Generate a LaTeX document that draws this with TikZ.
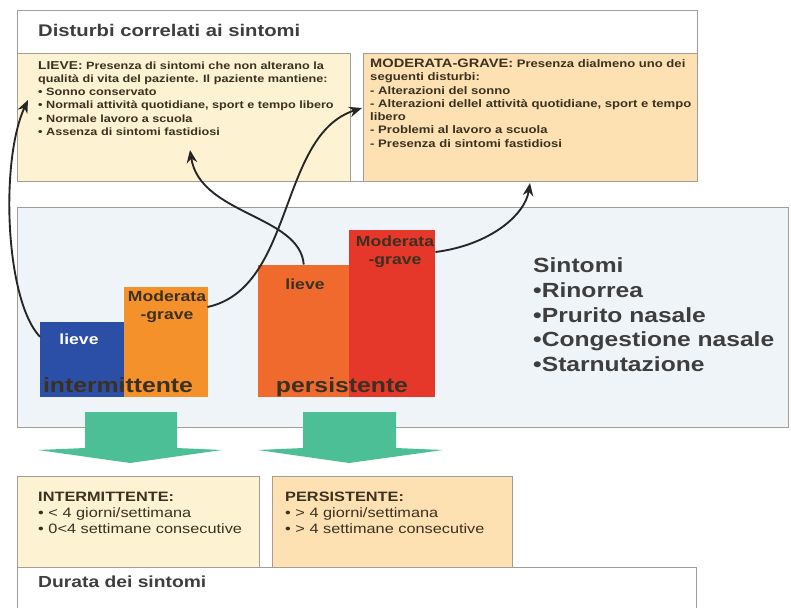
\documentclass[tikz,border=0pt]{standalone}
\usepackage{fontspec}
\setmainfont{Liberation Sans}
\newfontfamily\widesans[FakeStretch=1.2]{Liberation Sans}
\usetikzlibrary{positioning,arrows.meta}

\definecolor{framegray}{HTML}{A39E95}
\definecolor{lievefill}{HTML}{FDF3D2}
\definecolor{gravefill}{HTML}{FDE1B3}
\definecolor{midfill}{HTML}{EFF4F8}
\definecolor{barblue}{HTML}{2B4FA6}
\definecolor{barorange}{HTML}{F5912B}
\definecolor{barflame}{HTML}{F06A2E}
\definecolor{barred}{HTML}{E5372A}
\definecolor{arrowgreen}{HTML}{4DBF97}
\definecolor{inkbrown}{HTML}{3A3120}
\definecolor{titlegray}{HTML}{3E3E3E}

\newcommand{\px}{0.03cm}

\begin{document}
\begin{tikzpicture}[x=0.03cm, y=-0.03cm,
    panel/.style={draw=framegray, line width=0.7pt, anchor=north west, inner sep=0pt},
    bar/.style={anchor=south west, inner sep=0pt},
    barlabel/.style={font=\widesans\bfseries\fontsize{12.5}{15}\selectfont, text=inkbrown, align=center, inner sep=1pt},
    barname/.style={font=\widesans\bfseries\fontsize{17.6}{20}\selectfont, text=inkbrown, anchor=base},
    heading/.style={font=\widesans\bfseries\fontsize{14.4}{18}\selectfont, text=titlegray, anchor=base west, inner sep=0pt},
    smalltext/.style={font=\widesans\bfseries\fontsize{9.3}{11.3}\selectfont, text=inkbrown, align=left, anchor=north west, inner sep=0pt},
    durtext/.style={font=\widesans\fontsize{11.6}{13.6}\selectfont, text=inkbrown, align=left, anchor=north west, inner sep=0pt},
    linkarrow/.style={-{Stealth[length=11pt,width=9pt]}, line width=1.6pt, black!85},
    blockarrow/.style={fill=arrowgreen}
  ]
  \useasboundingbox (0,0) rectangle (791,607);

  % Top panels
  \node[panel, fill=white, minimum width=680*\px, minimum height=171*\px] (top) at (17,10) {};
  \node[panel, fill=lievefill, minimum width=333*\px, minimum height=128*\px] (boxL) at (17,53) {};
  \node[panel, fill=gravefill, minimum width=334*\px, minimum height=128*\px] (boxM) at (363,53) {};
  \node[heading] (titTop) at (38,36) {Disturbi correlati ai sintomi};

  \node[smalltext, font=\widesans\bfseries\fontsize{9}{11.3}\selectfont] (txtL) at (38,61) {{\fontsize{9.8}{11.3}\selectfont LIEVE:} Presenza di sintomi che non alterano la\\
    qualità di vita del paziente. Il paziente mantiene:\\
    • Sonno conservato\\
    • Normali attività quotidiane, sport e tempo libero\\
    • Normale lavoro a scuola\\
    • Assenza di sintomi fastidiosi};
  \node[smalltext] (txtM) at (370,59) {{\fontsize{10.4}{11.3}\selectfont MODERATA-GRAVE:} Presenza dialmeno uno dei\\
    seguenti disturbi:\\
    - Alterazioni del sonno\\
    - Alterazioni dellel attività quotidiane, sport e tempo\\
    libero\\
    - Problemi al lavoro a scuola\\
    - Presenza di sintomi fastidiosi};

  % Middle panel with bars
  \node[panel, fill=midfill, minimum width=771*\px, minimum height=220*\px] (mid) at (17,207) {};

  \node[bar, fill=barblue, minimum width=84*\px, minimum height=75*\px] (barIL) at (40,397) {};
  \node[bar, fill=barorange, minimum width=84*\px, minimum height=110*\px] (barIM) at (124,397) {};
  \node[bar, fill=barflame, minimum width=91*\px, minimum height=132*\px] (barPL) at (258,397) {};
  \node[bar, fill=barred, minimum width=86*\px, minimum height=167*\px] (barPM) at (349,397) {};

  \node[barlabel, text=white] (lblIL) at (79,339) {lieve};
  \node[barlabel] (lblIM) at (167,307) {Moderata\\-grave};
  \node[barlabel] (lblPL) at (305,284) {lieve};
  \node[barlabel] (lblPM) at (395,252) {Moderata\\-grave};
  \node[barname] (nameI) at (118,392) {intermittente};
  \node[barname] (nameP) at (342,392) {persistente};

  \node[font=\widesans\bfseries\fontsize{17.5}{21.3}\selectfont, text=titlegray, align=left, anchor=north west, inner sep=0pt] (sint) at (533,257)
    {Sintomi\\•Rinorrea\\•Prurito nasale\\•Congestione nasale\\•Starnutazione};

  % Green block arrows
  \fill[blockarrow] (85,412) -- (177,412) -- (177,448) -- (222,450) -- (130,463) -- (38,450) -- (85,448) -- cycle;
  \fill[blockarrow] (303,412) -- (396,412) -- (396,448) -- (443,450) -- (349,463) -- (258,450) -- (303,448) -- cycle;

  % Bottom panels
  \draw[draw=framegray, line width=0.7pt] (17,610) -- (17,567) -- (696,567) -- (696,610);
  \node[panel, fill=lievefill, minimum width=242*\px, minimum height=91*\px] (boxI) at (17,476) {};
  \node[panel, fill=gravefill, minimum width=240*\px, minimum height=91*\px] (boxP) at (272,476) {};
  \node[durtext] (txtI) at (38,492) {\textbf{INTERMITTENTE:}\\• < 4 giorni/settimana\\• 0<4 settimane consecutive};
  \node[durtext] (txtP) at (285,492) {\textbf{PERSISTENTE:}\\• > 4 giorni/settimana\\• > 4 settimane consecutive};
  \node[heading, font=\widesans\bfseries\fontsize{13.7}{17}\selectfont] (titBot) at (38,587) {Durata dei sintomi};

  % Link arrows
  \coordinate (tipA) at (28,100);
  \coordinate (tipB) at (190,150);
  \coordinate (tipC) at (362,108);
  \coordinate (tipD) at (530,183);
  \draw[linkarrow] (barIL.152) .. controls (5,300) and (0,160) .. (tipA);
  \draw[linkarrow] (barPL.north) .. controls (300,215) and (200,215) .. (tipB);
  \draw[linkarrow] (lblIM.east) .. controls (295,288) and (278,135) .. (tipC);
  \draw[linkarrow] (lblPM.east) .. controls (490,245) and (525,215) .. (tipD);
\end{tikzpicture}
\end{document}
